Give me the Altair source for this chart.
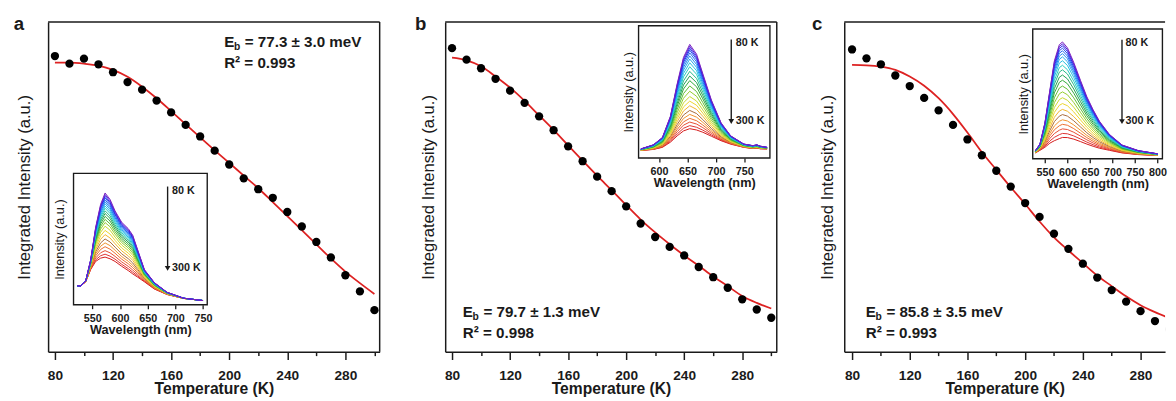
import altair as alt
import pandas as pd

FONT = "Liberation Sans"
INK = "#1a1a1a"
RED = "#dd2222"

temps = list(range(80, 301, 10))

# ---------------- main panels: integrated intensity (a.u., 0-100 of frame) ----------------
a_points = [89.7, 87.4, 88.9, 87.2, 84.8, 81.8, 79.5, 76.2, 72.6, 68.8, 65.3, 61.0,
            56.8, 52.6, 49.3, 46.7, 42.4, 38.0, 33.3, 28.6, 23.2, 18.3, 12.6]
a_fit = [87.7, 87.7, 87.4, 86.8, 85.5, 83.4, 80.4, 76.9, 73.0, 69.0, 65.0, 61.1,
         57.3, 53.4, 49.6, 45.4, 41.1, 36.9, 32.6, 28.3, 24.3, 20.8, 17.5]

b_points = [92.1, 88.6, 86.0, 82.8, 79.2, 75.5, 71.4, 67.2, 62.3, 57.8, 53.1, 48.7,
            44.1, 38.9, 34.8, 31.8, 29.2, 25.7, 22.6, 19.4, 15.9, 12.8, 10.3]
b_fit = [89.2, 88.4, 86.6, 83.5, 80.1, 76.1, 71.7, 67.3, 62.6, 58.0, 53.4, 49.0,
         44.5, 40.1, 36.2, 32.6, 29.2, 26.1, 22.8, 19.9, 16.9, 14.8, 13.1]

c_points = [91.7, 89.0, 87.2, 83.8, 80.6, 77.0, 73.2, 68.8, 64.4, 59.6, 54.9, 50.1,
            45.1, 40.9, 35.8, 31.2, 26.7, 22.5, 18.7, 15.2, 12.3, 9.3, 6.8]
c_fit = [87.0, 86.9, 86.5, 85.5, 83.5, 80.7, 76.9, 72.1, 66.5, 60.5, 55.2, 49.9,
         44.8, 39.5, 34.7, 30.7, 26.9, 23.1, 19.9, 16.8, 14.1, 12.0, 10.2]

# ---------------- insets: PL spectra (upper / lower envelope + peak heights) ----------------
a_wl = [523, 529, 538, 547, 556, 565, 573, 582, 591, 603, 615, 623, 632, 644, 662, 685, 715, 750]
a_top = [0.144, 0.144, 0.181, 0.343, 0.590, 0.765, 0.851, 0.802, 0.715, 0.628, 0.579, 0.529,
         0.417, 0.268, 0.169, 0.095, 0.050, 0.032]
a_bot = [0.144, 0.144, 0.175, 0.268, 0.330, 0.355, 0.363, 0.350, 0.330, 0.293, 0.260, 0.235,
         0.210, 0.175, 0.120, 0.078, 0.048, 0.032]
a_peaks = [0.851, 0.839, 0.826, 0.814, 0.799, 0.784, 0.769, 0.752, 0.735, 0.715, 0.695, 0.673,
           0.650, 0.626, 0.598, 0.566, 0.534, 0.501, 0.471, 0.442, 0.412, 0.385, 0.363]

b_wl = [568, 590, 606, 620, 632, 643, 654, 666, 677, 692, 709, 726, 749, 765, 772, 778, 790]
b_top = [0.069, 0.100, 0.156, 0.316, 0.563, 0.761, 0.859, 0.785, 0.637, 0.439, 0.267, 0.168,
         0.106, 0.094, 0.100, 0.090, 0.081]
b_bot = [0.057, 0.065, 0.081, 0.120, 0.168, 0.205, 0.222, 0.212, 0.195, 0.165, 0.131, 0.105,
         0.081, 0.072, 0.075, 0.070, 0.069]
b_peaks = [0.859, 0.845, 0.830, 0.815, 0.795, 0.772, 0.748, 0.720, 0.690, 0.655, 0.620, 0.585,
           0.545, 0.505, 0.465, 0.430, 0.395, 0.360, 0.330, 0.300, 0.272, 0.245, 0.222]

c_wl = [529, 539, 550, 561, 571, 582, 589, 600, 614, 629, 643, 657, 671, 693, 721, 757, 800]
c_top = [0.063, 0.113, 0.277, 0.528, 0.754, 0.879, 0.900, 0.855, 0.742, 0.603, 0.478, 0.377,
         0.289, 0.188, 0.106, 0.063, 0.038]
c_bot = [0.045, 0.065, 0.088, 0.120, 0.139, 0.155, 0.164, 0.163, 0.151, 0.132, 0.113, 0.096,
         0.081, 0.065, 0.045, 0.032, 0.025]
c_peaks = [0.900, 0.885, 0.870, 0.852, 0.832, 0.810, 0.785, 0.755, 0.720, 0.685, 0.645, 0.605,
           0.560, 0.515, 0.470, 0.425, 0.380, 0.340, 0.300, 0.265, 0.230, 0.195, 0.164]

rainbow = ["#7a1fc0", "#4b1fd8", "#2a2ae6", "#1f48ee", "#1f68f2", "#1f88f0", "#1fa6ee",
           "#22c0e0", "#22ccc0", "#22b884", "#1ea050", "#2fa838", "#5cbc30", "#92cc2c",
           "#c8d82a", "#ecd42a", "#f0b42a", "#a86a3a", "#f0902a", "#ec6c2c", "#e64a30",
           "#de3030", "#d41818"]

ONE = pd.DataFrame({"k": [0]})
H = 337
ANN = 15.5


def txt(s, x, y, size, weight="bold", align="left", baseline="alphabetic"):
    return alt.Chart(ONE).mark_text(text=s, font=FONT, fontSize=size, fontWeight=weight,
                                    align=align, baseline=baseline, color=INK).encode(
        x=alt.value(x), y=alt.value(y))


def spectra_df(wl, top, bot, peaks):
    rows = []
    pt, pb = peaks[0], peaks[-1]
    for i in range(len(temps) - 1, -1, -1):
        f = (peaks[i] - pb) / (pt - pb)
        for w, t, b in zip(wl, top, bot):
            rows.append({"wl": w, "v": b + f * (t - b), "T": temps[i]})
    return pd.DataFrame(rows)


def panel(letter, letter_dx, pts, fit, xdom, W, eb, r2, ann_x, ann_y, ytitle_pad,
          full_frame, tick_vals, inset):
    df = pd.DataFrame({"T": temps, "I": pts, "fit": fit})
    xaxis = alt.Axis(
        values=tick_vals, orient="bottom",
        labelExpr="datum.value % 40 == 0 ? datum.label : ''",
        tickSize={"condition": {"test": "datum.value % 40 == 0", "value": 8}, "value": 4},
        tickColor=INK, tickWidth=1.5, labelFont=FONT, labelFontSize=14,
        labelFontWeight="bold", labelColor=INK, labelPadding=9, labelOverlap=False,
        labelFlush=False, title="Temperature (K)", titleFont=FONT, titleFontSize=16,
        titleFontWeight="bold", titleColor=INK, titlePadding=-1, domain=True,
        domainColor=INK, domainWidth=1.5, grid=False)
    yaxis = alt.Axis(orient="left", labels=False, ticks=False, domain=True, domainColor=INK,
                     domainWidth=1.5, grid=False, title="Integrated Intensity (a.u.)",
                     titleFont=FONT, titleFontSize=17, titleFontWeight="normal",
                     titleColor=INK, titlePadding=ytitle_pad)
    xs = alt.Scale(domain=xdom, nice=False, zero=False)
    ys = alt.Scale(domain=[0, 100], nice=False, zero=False)
    line = alt.Chart(df).mark_line(color=RED, strokeWidth=1.8, interpolate="monotone",
                                   clip=True).encode(
        x=alt.X("T:Q", scale=xs, axis=xaxis), y=alt.Y("fit:Q", scale=ys, axis=yaxis))
    dots = alt.Chart(df).mark_circle(size=72, color="black", opacity=1, clip=True).encode(
        x=alt.X("T:Q", scale=xs, axis=xaxis), y=alt.Y("I:Q", scale=ys, axis=yaxis))
    layers = [line, dots]
    layers.append(alt.Chart(ONE).mark_rule(color=INK, strokeWidth=1.5).encode(
        x=alt.value(0), x2=alt.value(W), y=alt.value(0)))
    if full_frame:
        layers.append(alt.Chart(ONE).mark_rule(color=INK, strokeWidth=1.5).encode(
            x=alt.value(W), y=alt.value(0), y2=alt.value(H)))
    e_w = 0.667 * ANN
    b_w = 0.611 * 10.5
    sp_w = 0.278 * ANN
    layers += [
        txt(letter, letter_dx, 8, 19),
        txt("E", ann_x, ann_y, ANN),
        txt("b", ann_x + e_w - 0.3, ann_y + 3.5, 10.5),
        txt(eb, ann_x + e_w + b_w + sp_w, ann_y, ANN),
        txt(r2, ann_x, ann_y + 22, ANN),
    ]
    main = alt.layer(*layers)

    # ---------- inset ----------
    (wl, top, bot, peaks, idom, xr, yr, ivals, ipad, arrow_w, arrow_top, arrow_tip,
     lab_w, lab80, lab300) = inset
    sdf = spectra_df(wl, top, bot, peaks)
    ixs = alt.Scale(domain=idom, range=xr, nice=False, zero=False)
    iys = alt.Scale(domain=[0, 1], range=yr, nice=False, zero=False)
    ixa = alt.Axis(values=ivals, orient="bottom", offset=yr[0] - H, tickSize=4,
                   tickColor=INK, tickWidth=1.3, labelFont=FONT, labelFontSize=11,
                   labelFontWeight="bold", labelColor=INK, labelPadding=4,
                   labelFlush=False, labelOverlap=False, title="Wavelength (nm)",
                   titleFont=FONT, titleFontSize=13, titleFontWeight="bold",
                   titleColor=INK, titlePadding=0, domain=False, grid=False)
    iya = alt.Axis(orient="left", offset=-xr[0], labels=False, ticks=False, domain=False,
                   grid=False, title="Intensity (a.u.)", titleFont=FONT, titleFontSize=13,
                   titleFontWeight="normal", titleColor=INK, titlePadding=ipad)

    def IX(f):
        return alt.X(f, scale=ixs, axis=ixa)

    def IY(f):
        return alt.Y(f, scale=iys, axis=iya)

    spec = alt.Chart(sdf).mark_line(strokeWidth=1.0).encode(
        x=IX("wl:Q"), y=IY("v:Q"),
        color=alt.Color("T:O", scale=alt.Scale(domain=temps, range=rainbow), legend=None))
    fdf = pd.DataFrame({"wl": [idom[0]], "wl2": [idom[1]], "v": [0.0], "v2": [1.0]})
    frame = alt.Chart(fdf).mark_rect(fillOpacity=0, stroke=INK, strokeWidth=1.4).encode(
        x=IX("wl:Q"), x2="wl2:Q", y=IY("v:Q"), y2="v2:Q")
    adf = pd.DataFrame({"wl": [arrow_w], "v": [arrow_top], "v2": [arrow_tip + 0.03]})
    arrow = alt.Chart(adf).mark_rule(color=INK, strokeWidth=1.4).encode(
        x=IX("wl:Q"), y=IY("v:Q"), y2="v2:Q")
    hdf = pd.DataFrame({"wl": [arrow_w], "v": [arrow_tip + 0.022]})
    head = alt.Chart(hdf).mark_point(shape="triangle-down", filled=True, size=34,
                                     color=INK, opacity=1).encode(x=IX("wl:Q"), y=IY("v:Q"))
    ldf = pd.DataFrame({"wl": [lab_w, lab_w], "v": [lab80, lab300], "s": ["80 K", "300 K"]})
    labs = alt.Chart(ldf).mark_text(font=FONT, fontSize=11, fontWeight="bold", align="left",
                                    baseline="middle", color=INK).encode(
        x=IX("wl:Q"), y=IY("v:Q"), text="s:N")
    ins = alt.layer(spec, frame, arrow, head, labs)

    return alt.layer(main, ins).resolve_scale(
        x="independent", y="independent").properties(width=W, height=H)


pa = panel("a", -35, a_points, a_fit, [75.3, 303.6], 339, "= 77.3 ± 3.0 meV", "R² = 0.993",
           180, 25, 14.5, True, list(range(80, 301, 20)),
           (a_wl, a_top, a_bot, a_peaks, [516, 757.6], [26, 162.7], [289, 154.7],
            [550, 600, 650, 700, 750], 7.5, 686, 0.90, 0.255, 694, 0.864, 0.283))
pb = panel("b", -31, b_points, b_fit, [75.3, 303.8], 339, "= 79.7 ± 1.3 meV", "R² = 0.998",
           18, 301, 7.5, True, list(range(80, 301, 20)),
           (b_wl, b_top, b_bot, b_peaks, [564, 795], [197.7, 332], [139, 3.7],
            [600, 650, 700, 750], 3, 727, 0.896, 0.254, 735, 0.872, 0.279))
pc = panel("c", -33, c_points, c_fit, [74.6, 297.0], 328, "= 85.8 ± 3.5 meV", "R² = 0.993",
           22, 301, 7.5, False, list(range(80, 290, 20)),
           (c_wl, c_top, c_bot, c_peaks, [523, 810.7], [192.7, 325.3], [139.7, 7],
            [550, 600, 650, 700, 750, 800], 2.5, 721, 0.917, 0.264, 729, 0.892, 0.289))

chart = alt.hconcat(pa, pb, pc, spacing=33).properties(
    padding={"left": 5, "top": 2, "right": 0, "bottom": 0}
).configure(font=FONT).configure_view(stroke="transparent")

chart.save("out.html", embed_options={"renderer": "svg", "actions": False})
